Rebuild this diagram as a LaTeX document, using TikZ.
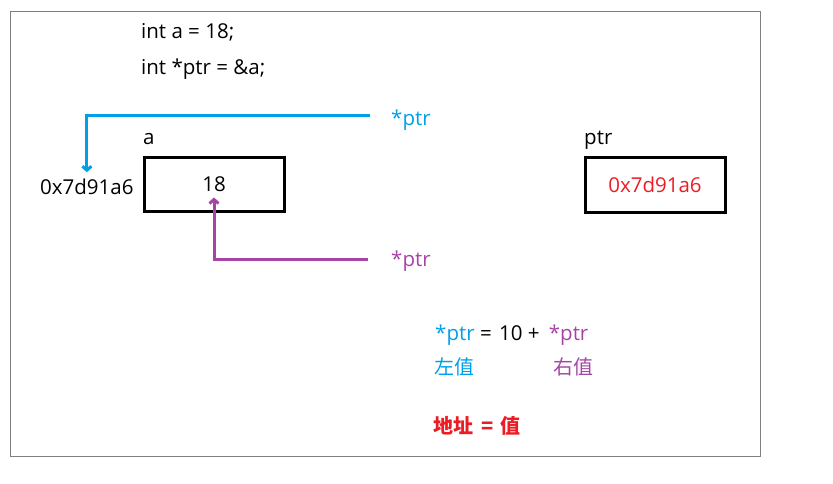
\documentclass[tikz,border=0pt]{standalone}
\usepackage{fontspec}
\setmainfont{Open Sans}
\newfontfamily\cjk{Noto Sans CJK SC}
\usepackage{tikz}
\usetikzlibrary{arrows.meta,calc}
\usepackage{xcolor}
\definecolor{ptrblue}{RGB}{0,160,233}
\definecolor{ptrpurple}{RGB}{166,68,166}
\definecolor{addrred}{RGB}{236,28,36}
\definecolor{framegrey}{RGB}{128,128,128}

\begin{document}
\begin{tikzpicture}[x=1pt, y=-1pt,
    txt/.style={anchor=base west, inner sep=0pt, font=\fontsize{20.5pt}{24pt}\selectfont},
    hanzi/.style={anchor=base west, inner sep=0pt, font=\fontsize{20pt}{24pt}\selectfont\cjk},
    memcell/.style={rectangle, draw=black, line width=3pt, minimum width=140pt,
        minimum height=54pt, inner sep=0pt, font=\fontsize{20.5pt}{24pt}\selectfont},
    lval/.style={-{Straight Barb[length=4pt,width=9pt]}, line width=3pt, ptrblue},
    rval/.style={-{Straight Barb[length=4pt,width=9pt]}, line width=3pt, ptrpurple}
]
    \useasboundingbox (0,0) rectangle (833,484);
    \draw[framegrey, line width=1pt] (10.5,11.5) rectangle (760.5,456);

    % code lines
    \node[txt] (decl) at (141,39) {int a = 18;};
    \node[txt] (init) at (141,75) {int *ptr = \&a;};

    % variable a
    \node[txt] (namea) at (143,145) {a};
    \node[memcell] (cella) at (214,184.5) {18};
    \node[txt] (addr) at (40,194) {0x7d91a6};

    % variable ptr
    \node[txt] (nameptr) at (584,145) {ptr};
    \node[memcell, text=addrred] (cellptr) at (655,185) {0x7d91a6};

    % dereference labels
    \node[txt, text=ptrblue] (derefl) at (391,126) {*ptr};
    \node[txt, text=ptrpurple] (derefr) at (391,266) {*ptr};

    \draw[lval, shorten >=6pt] ($(derefl.base west)+(-21,-10)$) -| (addr.north);
    \draw[rval, shorten >=13pt] ($(derefr.base west)+(-23,-7)$) -| (cella.center);

    % assignment
    \node[txt] (assign) at (435,340) {\textcolor{ptrblue}{*ptr} = \hspace{2pt}10 + \hspace{4pt}\textcolor{ptrpurple}{*ptr}};
    \node[hanzi, text=ptrblue] (left) at (434,374) {左值};
    \node[hanzi, text=ptrpurple] (right) at (553,374) {右值};
    \node[hanzi, text=addrred, font=\fontsize{20pt}{24pt}\selectfont\cjk\bfseries] (rule) at (433,433) {地址\hspace{8pt}=\hspace{7pt}值};
\end{tikzpicture}
\end{document}
